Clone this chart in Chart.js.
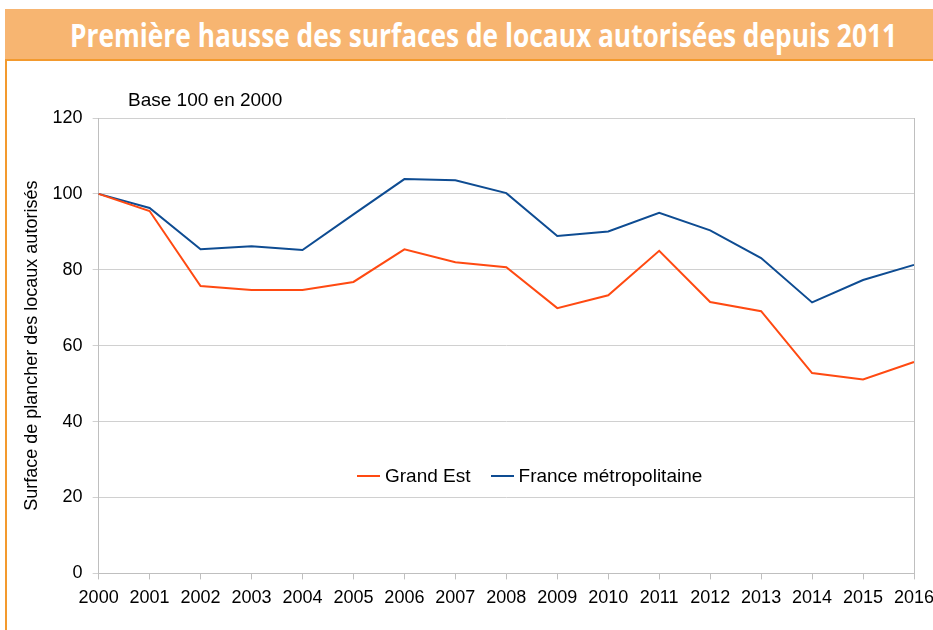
<!DOCTYPE html>
<html>
<head>
<meta charset="utf-8">
<script src="https://cdn.jsdelivr.net/npm/chart.js@4.4.1/dist/chart.umd.min.js"></script>
<style>
  body { margin: 0; width: 933px; height: 630px; background: #fff; position: relative; overflow: hidden; font-family: "Liberation Sans", Arial, sans-serif; }
  #banner { position: absolute; left: 5px; top: 9px; width: 940px; height: 50px; background: #f7b571; border-bottom: 2px solid #f39a2e; }
  #banner span { position: absolute; left: 65px; top: 3px; color: #fff; font: bold 33px "Open Sans", sans-serif; white-space: nowrap; transform-origin: 0 0; display: inline-block; }
  #frame { position: absolute; left: 5px; top: 61px; width: 2px; height: 580px; background: #f39a2e; }
  #base { position: absolute; left: 128px; top: 89px; font-size: 19px; color: #000; }
  #legend { position: absolute; left: 357px; top: 465px; font-size: 19px; color: #000; display: flex; align-items: center; }
  #legend i { display: inline-block; width: 23px; height: 2px; margin-right: 5px; }
  #wrap { position: absolute; left: 0; top: 0; width: 933px; height: 630px; }
</style>
</head>
<body>
<div id="banner"><span id="titre">Première hausse des surfaces de locaux autorisées depuis 2011</span></div>
<div id="frame"></div>
<div id="wrap"><canvas id="graf"></canvas></div>
<div id="base">Base 100 en 2000</div>
<div id="legend"><i style="background:#ff4a12"></i>Grand Est<i style="background:#0e4c92; margin-left:20px"></i>France métropolitaine</div>
<script>
const annees = ['2000','2001','2002','2003','2004','2005','2006','2007','2008','2009','2010','2011','2012','2013','2014','2015','2016'];
const grandEst = [100, 95.5, 75.7, 74.7, 74.7, 76.8, 85.4, 82.0, 80.7, 69.9, 73.3, 85.0, 71.5, 69.1, 52.8, 51.1, 55.7];
const franceMetro = [100, 96.3, 85.4, 86.2, 85.2, 94.6, 103.9, 103.6, 100.2, 88.9, 90.1, 95.0, 90.4, 83.1, 71.4, 77.3, 81.3];
const yTicks = [0, 20, 40, 60, 80, 100, 120];

var orange = '#ff4a12'
var bleu = '#0e4c92'

// squeeze the banner title to the width of the original condensed font
const titre = document.getElementById('titre');
titre.style.transform = 'scaleX(' + (827 / titre.offsetWidth) + ')';

const bordDroit = {
  id: 'bordDroit',
  afterDraw(chart) {
    const a = chart.chartArea;
    const c = chart.ctx;
    c.save();
    c.strokeStyle = '#bfbfbf';
    c.lineWidth = 1;
    c.beginPath();
    c.moveTo(Math.round(a.right) + 0.5, a.top);
    c.lineTo(Math.round(a.right) + 0.5, a.bottom);
    c.stroke();
    c.restore();
  }
};

new Chart(document.getElementById('graf'), {
  type: 'line',
  data: {
    labels: annees,
    datasets: [{
      label: 'Grand Est',
      data: grandEst,
      borderColor: orange,
      borderWidth: 2,
      pointRadius: 0,
      tension: 0
    }, {
      label: 'France métropolitaine',
      data: franceMetro,
      borderColor: bleu,
      borderWidth: 2,
      pointRadius: 0,
      tension: 0
    }]
  },
  options: {
    responsive: true,
    maintainAspectRatio: false,
    animation: false,
    layout: { padding: { left: 9, top: 118, bottom: 13, right: 0 } },
    plugins: { legend: { display: false }, tooltip: { enabled: false } },
    scales: {
      x: {
        offset: false,
        afterFit: (s) => { s.paddingRight = 19; },
        grid: { drawOnChartArea: false, color: '#bfbfbf', tickLength: 6 },
        border: { color: '#bfbfbf' },
        ticks: { color: '#000', font: { family: 'Liberation Sans', size: 18 }, padding: 8, maxRotation: 0, autoSkip: false }
      },
      y: {
        min: 0,
        max: 120,
        afterBuildTicks: (s) => { s.ticks = yTicks.map(v => ({ value: v })); },
        grid: { color: '#d0d0d0', tickLength: 6 },
        border: { color: '#bfbfbf' },
        ticks: { color: '#000', font: { family: 'Liberation Sans', size: 18 }, padding: 10 },
        title: {
          display: true,
          text: 'Surface de plancher des locaux autorisés',
          color: '#000',
          font: { family: 'Liberation Sans', size: 18 },
          padding: { top: 12, bottom: 0 }
        }
      }
    }
  },
  plugins: [bordDroit]
});
</script>
</body>
</html>
